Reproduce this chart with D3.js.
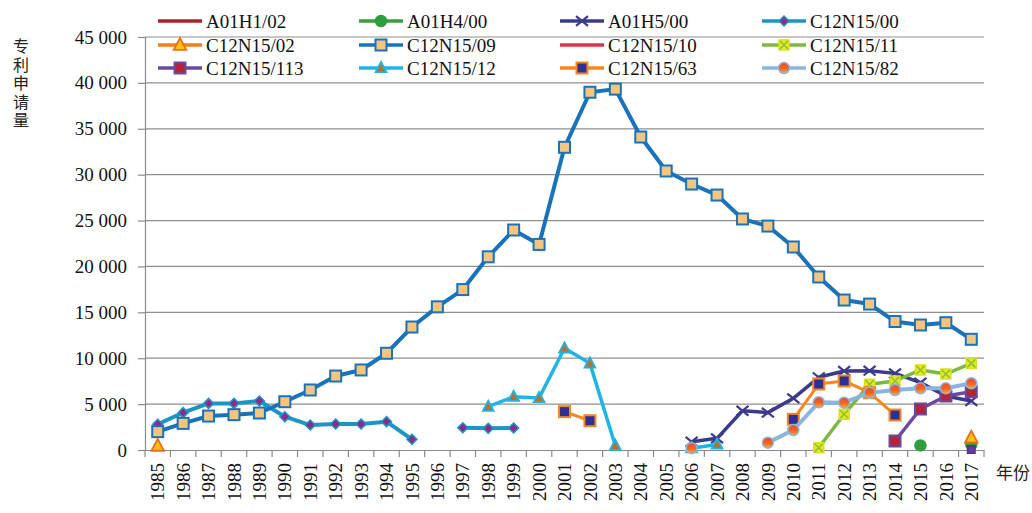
<!DOCTYPE html>
<html><head><meta charset="utf-8">
<script src="https://cdn.jsdelivr.net/npm/d3@7"></script>
<style>
html,body{margin:0;padding:0;background:#fff;}
</style></head>
<body><svg id="c" width="1032" height="513"></svg>
<script>
const _ = null;
const years = ["1985","1986","1987","1988","1989","1990","1991","1992","1993","1994","1995","1996","1997","1998","1999","2000","2001","2002","2003","2004","2005","2006","2007","2008","2009","2010","2011","2012","2013","2014","2015","2016","2017"];
const yTicks = [0,5000,10000,15000,20000,25000,30000,35000,40000,45000];
const seriesNames = ["A01H1/02","A01H4/00","A01H5/00","C12N15/00","C12N15/02","C12N15/09","C12N15/10","C12N15/11","C12N15/113","C12N15/12","C12N15/63","C12N15/82"];
const vA01H1_02   = [_,_,_,_,_,_,_,_,_,_,_,_,_,_,_,_,_,_,_,_,_,_,_,_,_,_,_,_,_,_,_,_,_];
const vA01H4_00   = [_,_,_,_,_,_,_,_,_,_,_,_,_,_,_,_,_,_,_,_,_,_,_,_,_,_,_,_,_,_,500,_,600];
const vA01H5_00   = [_,_,_,_,_,_,_,_,_,_,_,_,_,_,_,_,_,_,_,_,_,900,1270,4280,4070,5630,7920,8610,8640,8350,7340,5880,5340];
const vC12N15_00  = [2800,4070,5080,5080,5340,3630,2720,2830,2830,3090,1160,_,2430,2360,2400,_,_,_,_,_,_,_,_,_,_,_,_,_,_,_,_,_,_];
const vC12N15_02  = [450,_,_,_,_,_,_,_,_,_,_,_,_,_,_,_,_,_,_,_,_,_,_,_,_,_,_,_,_,_,_,_,1350];
const vC12N15_09  = [2000,2900,3700,3850,4030,5260,6540,8060,8720,10540,13400,15600,17480,21050,23970,22400,32980,38980,39320,34100,30400,28980,27780,25170,24400,22120,18850,16340,15900,14000,13620,13870,12060];
const vC12N15_10  = [_,_,_,_,_,_,_,_,_,_,_,_,_,_,_,_,_,_,_,_,_,_,_,_,_,_,_,_,_,_,_,_,50];
const vC12N15_11  = [_,_,_,_,_,_,_,_,_,_,_,_,_,_,_,_,_,_,_,_,_,_,_,_,_,_,250,3890,7160,7520,8720,8280,9440];
const vC12N15_113 = [_,_,_,_,_,_,_,_,_,_,_,_,_,_,_,_,_,_,_,_,_,_,_,_,_,_,_,_,_,980,4470,5880,6350];
const vC12N15_12  = [_,_,_,_,_,_,_,_,_,_,_,_,_,4720,5810,5670,11080,9440,470,_,_,200,600,_,_,_,_,_,_,_,_,_,_];
const vC12N15_63  = [_,_,_,_,_,_,_,_,_,_,_,_,_,_,_,_,4180,3190,_,_,_,_,_,_,_,3340,7190,7520,6240,3810,_,_,_];
const vC12N15_82  = [_,_,_,_,_,_,_,_,_,_,_,_,_,_,_,_,_,_,_,_,_,200,_,_,800,2180,5200,5160,6240,6540,6720,6720,7270];

const styles = {
 "A01H1/02":  {line:"#a3262c", w:3,   marker:"none"},
 "A01H4/00":  {line:"#3a9e3a", w:3,   marker:"circle", fill:"#2e9e3e", stroke:"#2e9e3e", size:5.5},
 "A01H5/00":  {line:"#3d3a8c", w:3.5, marker:"x", fill:"none", stroke:"#3d3a8c", size:6},
 "C12N15/00": {line:"#1b95c4", w:4,   marker:"diamond", fill:"#8e2a8a", stroke:"#1b95c4", size:5},
 "C12N15/02": {line:"#ee8122", w:3,   marker:"triangle", fill:"#ffc20e", stroke:"#e86f1e", size:7},
 "C12N15/09": {line:"#1a73ba", w:4,   marker:"square", fill:"#f3c57f", stroke:"#1a73ba", size:5.5},
 "C12N15/10": {line:"#d8364a", w:3,   marker:"square", fill:"#6d3a9c", stroke:"#4a3a96", size:3.5, legendMarker:false},
 "C12N15/11": {line:"#7bb842", w:3.5, marker:"xsquare", fill:"#e8e81a", stroke:"#7bb842", size:5},
 "C12N15/113":{line:"#6a4a9e", w:3.5, marker:"square", fill:"#b3243b", stroke:"#6a4a9e", size:5.5},
 "C12N15/12": {line:"#1fb4e6", w:3.5, marker:"triangle", fill:"#b8702c", stroke:"#1fb4e6", size:6},
 "C12N15/63": {line:"#f7861f", w:3,   marker:"square", fill:"#2e3192", stroke:"#f7861f", size:5.5},
 "C12N15/82": {line:"#8cb4e0", w:4,   marker:"circle", fill:"url(#gradRO)", stroke:"#8cb4e0", size:5.5}
};
const valuesByName = {
 "A01H1/02":vA01H1_02,"A01H4/00":vA01H4_00,"A01H5/00":vA01H5_00,"C12N15/00":vC12N15_00,
 "C12N15/02":vC12N15_02,"C12N15/09":vC12N15_09,"C12N15/10":vC12N15_10,"C12N15/11":vC12N15_11,
 "C12N15/113":vC12N15_113,"C12N15/12":vC12N15_12,"C12N15/63":vC12N15_63,"C12N15/82":vC12N15_82
};

(function(){
const SERIF = "'Liberation Serif','Times New Roman',serif";
const CJK = "'Noto Sans CJK SC',sans-serif";
const svg = d3.select("#c");
const defs = svg.append("defs");
const g1 = defs.append("linearGradient").attr("id","gradRO").attr("x1","0").attr("y1","0").attr("x2","0").attr("y2","1");
g1.append("stop").attr("offset","0%").attr("stop-color","#f04a2a");
g1.append("stop").attr("offset","55%").attr("stop-color","#f26522");
g1.append("stop").attr("offset","100%").attr("stop-color","#fbb040");

const pLeft = 145, pRight = 984, pTop = 37, pBottom = 450;
const x = d3.scaleBand().domain(years).range([pLeft,pRight]).paddingInner(0).paddingOuter(0);
const xc = d => x(d) + x.bandwidth()/2;
const y = d3.scaleLinear().domain([0,45000]).range([pBottom,pTop]);

svg.append("g").selectAll("line").data(yTicks.filter(d=>d>0)).join("line")
  .attr("x1",pLeft).attr("x2",pRight).attr("y1",d=>y(d)).attr("y2",d=>y(d))
  .attr("stroke","#8f8f8f").attr("stroke-width",1.2);

const fmt = v => d3.format(",")(v).replace(/,/g," ");
const ya = svg.append("g").attr("transform",`translate(${pLeft},0)`)
  .call(d3.axisLeft(y).tickValues(yTicks).tickFormat(fmt).tickSize(7).tickPadding(11));
ya.attr("font-family",null);
ya.select(".domain").attr("stroke","#8a8a8a").attr("stroke-width",1.2);
ya.selectAll(".tick line").attr("stroke","#8a8a8a").attr("stroke-width",1.2);
ya.selectAll("text").style("font-size","19px").style("font-family",SERIF).attr("fill","#111");

const xa = svg.append("g").attr("transform",`translate(0,${pBottom})`)
  .call(d3.axisBottom(x).tickSize(0).tickFormat(d=>d));
xa.attr("font-family",null);
xa.select(".domain").attr("stroke","#8a8a8a").attr("stroke-width",1.2);
xa.selectAll("text").style("font-size","19px").style("font-family",SERIF).attr("fill","#111")
  .attr("transform","rotate(-90)").attr("text-anchor","end").attr("dy","0.35em").attr("dx","-13").attr("y",0).attr("x",0);
const bounds = years.map(d=>x(d)).concat([pRight]);
svg.append("g").selectAll("line").data(bounds).join("line")
  .attr("x1",d=>d).attr("x2",d=>d).attr("y1",pBottom).attr("y2",pBottom+7)
  .attr("stroke","#8a8a8a").attr("stroke-width",1.2);

svg.append("text").attr("x",21).attr("y",38)
  .style("writing-mode","vertical-rl").style("letter-spacing","2.5px")
  .style("font-family",CJK).style("font-size","16px").attr("fill","#222").text("专利申请量");
svg.append("text").attr("x",996).attr("y",479).style("font-family",CJK)
  .style("font-size","17px").attr("fill","#222").text("年份");

function drawMarker(sel, st, cx, cy){
  const s = st.size;
  if(st.marker==="square"){
    sel.append("rect").attr("x",cx-s).attr("y",cy-s).attr("width",2*s).attr("height",2*s)
      .attr("fill",st.fill).attr("stroke",st.stroke).attr("stroke-width",2);
  } else if(st.marker==="circle"){
    sel.append("circle").attr("cx",cx).attr("cy",cy).attr("r",s)
      .attr("fill",st.fill).attr("stroke",st.stroke).attr("stroke-width",1.5);
  } else if(st.marker==="diamond"){
    sel.append("path").attr("d",`M${cx},${cy-s}L${cx+s},${cy}L${cx},${cy+s}L${cx-s},${cy}Z`)
      .attr("fill",st.fill).attr("stroke",st.stroke).attr("stroke-width",1.5);
  } else if(st.marker==="triangle"){
    sel.append("path").attr("d",`M${cx},${cy-s}L${cx+s*0.9},${cy+s*0.7}L${cx-s*0.9},${cy+s*0.7}Z`)
      .attr("fill",st.fill).attr("stroke",st.stroke).attr("stroke-width",1.8);
  } else if(st.marker==="x"){
    sel.append("path").attr("d",`M${cx-s},${cy-s*0.8}L${cx+s},${cy+s*0.8}M${cx-s},${cy+s*0.8}L${cx+s},${cy-s*0.8}`)
      .attr("fill","none").attr("stroke",st.stroke).attr("stroke-width",2.2);
  } else if(st.marker==="xsquare"){
    sel.append("rect").attr("x",cx-s).attr("y",cy-s).attr("width",2*s).attr("height",2*s)
      .attr("fill",st.fill).attr("stroke","#d8e21a").attr("stroke-width",1.5);
    sel.append("path").attr("d",`M${cx-s+1},${cy-s+1}L${cx+s-1},${cy+s-1}M${cx-s+1},${cy+s-1}L${cx+s-1},${cy-s+1}`)
      .attr("stroke","#8cbf3f").attr("stroke-width",1.6);
  }
}

const plot = svg.append("g");
seriesNames.forEach(name=>{
  const st = styles[name];
  const vals = valuesByName[name];
  const pts = years.map((yr,i)=>({yr, v:vals[i]}));
  const line = d3.line().defined(d=>d.v!==null).x(d=>xc(d.yr)).y(d=>y(d.v));
  const gs = plot.append("g");
  gs.append("path").datum(pts).attr("d",line).attr("fill","none")
    .attr("stroke",st.line).attr("stroke-width",st.w).attr("stroke-linejoin","round");
  pts.filter(d=>d.v!==null).forEach(d=>drawMarker(gs, st, xc(d.yr), y(d.v)));
});

const colX = [158,359,560,762], rowY = [21,45,68];
const lg = svg.append("g");
seriesNames.forEach((name,i)=>{
  const st = styles[name];
  const cx0 = colX[i%4], cy0 = rowY[Math.floor(i/4)];
  lg.append("line").attr("x1",cx0).attr("x2",cx0+44).attr("y1",cy0).attr("y2",cy0)
    .attr("stroke",st.line).attr("stroke-width",3.5);
  if(st.marker!=="none" && st.legendMarker!==false) drawMarker(lg, st, cx0+22, cy0);
  lg.append("text").attr("x",cx0+48).attr("y",cy0).attr("dy","0.35em")
    .style("font-size","19px").style("font-family",SERIF).attr("fill","#111").text(name);
});
})();
</script></body></html>
